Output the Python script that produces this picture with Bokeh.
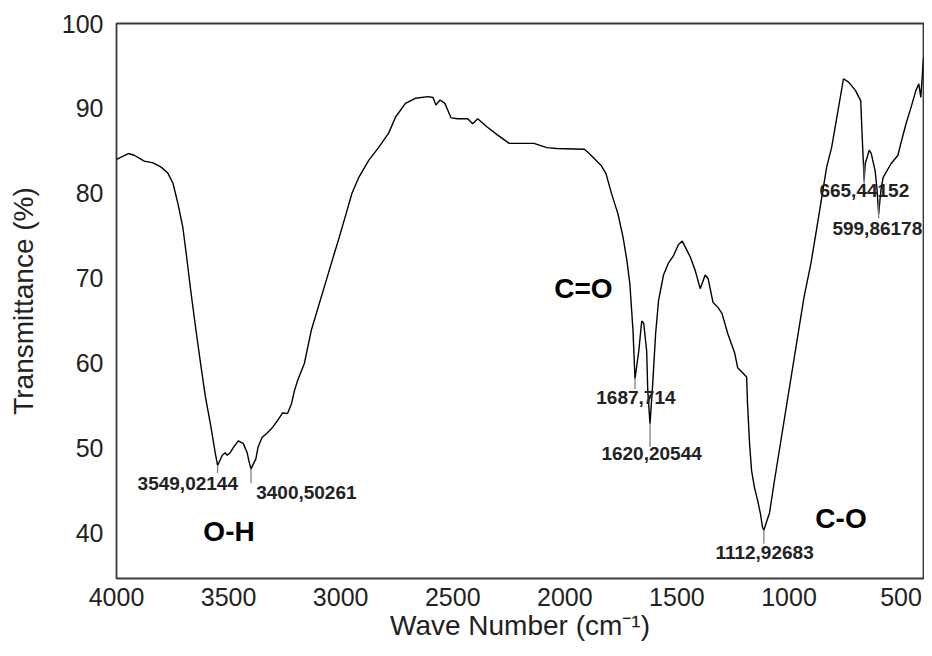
from bokeh.plotting import figure
from bokeh.models import Range1d, FixedTicker
from bokeh.core.properties import value
from bokeh.embed import file_html
from bokeh.resources import INLINE

# FTIR spectrum (wavenumber in cm^-1, transmittance in %)
wavenumber = [4000, 3947, 3921, 3876, 3837, 3801, 3771, 3748, 3726, 3704, 3687, 3669, 3647,
              3625, 3603, 3581, 3559, 3549, 3528, 3515, 3506, 3493, 3479, 3457, 3435, 3417,
              3410, 3400, 3378, 3369, 3351, 3329, 3303, 3281, 3259, 3237, 3219, 3206, 3192,
              3162, 3131, 3038, 3007, 2976, 2950, 2919, 2875, 2831, 2786, 2755, 2711, 2667,
              2610, 2588, 2575, 2557, 2535, 2522, 2508, 2478, 2433, 2411, 2389, 2345, 2301,
              2248, 2138, 2080, 2036, 1913, 1891, 1838, 1816, 1793, 1763, 1740, 1723, 1710,
              1696, 1687, 1670, 1657, 1648, 1635, 1630, 1620, 1608, 1595, 1582, 1560, 1538,
              1515, 1493, 1476, 1440, 1418, 1396, 1374, 1361, 1339, 1317, 1299, 1273, 1242,
              1229, 1207, 1189, 1185, 1176, 1167, 1154, 1140, 1128, 1118, 1112, 1087, 1065,
              933, 902, 880, 854, 832, 810, 787, 757, 734, 703, 680, 674, 668, 665, 660, 642,
              633, 616, 608, 600, 590, 580, 545, 514, 501, 478, 456, 434, 421, 412, 403, 400]
transmittance = [84.0, 84.7, 84.5, 83.8, 83.6, 83.1, 82.4, 81.2, 78.8, 76.0, 72.5, 68.6, 64.2,
                 60.0, 56.0, 52.9, 49.4, 48.0, 49.2, 49.5, 49.2, 49.5, 50.1, 50.9, 50.6, 49.5,
                 48.6, 47.6, 48.8, 50.1, 51.3, 51.8, 52.5, 53.3, 54.2, 54.1, 55.3, 56.8, 58.0,
                 60.0, 63.9, 72.1, 74.8, 77.6, 80.0, 81.9, 83.9, 85.4, 87.1, 89.0, 90.6, 91.2,
                 91.4, 91.3, 90.4, 91.0, 90.6, 89.8, 88.9, 88.8, 88.8, 88.2, 88.8, 87.8, 86.9,
                 85.9, 85.9, 85.4, 85.3, 85.2, 84.7, 83.3, 82.3, 80.1, 77.6, 74.8, 72.1, 69.4,
                 63.9, 58.2, 61.5, 65.0, 64.7, 61.5, 56.8, 52.9, 57.6, 63.5, 67.4, 70.4, 71.8,
                 72.7, 74.0, 74.4, 72.5, 70.9, 68.8, 70.4, 70.0, 67.2, 66.6, 65.9, 63.5, 61.2,
                 59.5, 58.9, 58.4, 55.3, 50.6, 47.4, 45.4, 43.9, 42.4, 40.7, 40.4, 42.4, 46.2,
                 67.8, 71.8, 75.3, 79.5, 83.1, 85.4, 88.9, 93.5, 93.1, 92.1, 90.9, 87.0, 83.5,
                 81.5, 83.5, 85.1, 84.7, 82.7, 80.7, 77.6, 80.4, 81.9, 83.5, 84.5, 85.9, 88.2,
                 90.1, 92.1, 92.9, 91.3, 94.8, 96.0]

# Peak annotations
peak_text = ["3549,02144", "3400,50261", "1687,714", "1620,20544", "1112,92683",
             "665,44152", "599,86178"]
peak_x = [3549, 3400, 1687, 1620, 1112, 665, 600]
peak_top = [48.0, 47.6, 58.2, 52.9, 40.4, 83.5, 79.2]
peak_bottom = [47.1, 45.9, 57.0, 50.2, 38.8, 81.0, 77.1]
peak_label_x = [3682, 3153, 1683, 1613, 1109, 664, 606]
peak_label_y = [45.9, 44.8, 56.0, 49.4, 37.8, 80.4, 75.9]

# Functional-group annotations
group_text = ["O-H", "C=O", "C-O"]
group_x = [3498, 1917, 768]
group_y = [40.2, 68.8, 41.8]

x_ticks = [4000, 3500, 3000, 2500, 2000, 1500, 1000, 500]
y_ticks = [40, 50, 60, 70, 80, 90, 100]

FONT = "Liberation Sans"

p = figure(width=924, height=648, output_backend="svg", toolbar_location=None,
           x_range=Range1d(4000, 400), y_range=Range1d(34.7, 100),
           min_border_left=116, min_border_right=1, min_border_top=23, min_border_bottom=70)

p.xgrid.visible = False
p.ygrid.visible = False
p.outline_line_color = "#3a3a3a"
p.outline_line_width = 1.8
p.background_fill_color = "white"
p.border_fill_color = "white"

for ax in (p.xaxis[0], p.yaxis[0]):
    ax.axis_line_color = None
    ax.major_tick_line_color = None
    ax.minor_tick_line_color = None
    ax.major_tick_out = 0
    ax.major_tick_in = 0
    ax.major_label_text_font = FONT
    ax.major_label_text_font_size = "25px"
    ax.major_label_text_color = "#222222"
    ax.axis_label_text_font = FONT
    ax.axis_label_text_font_size = "28px"
    ax.axis_label_text_font_style = "normal"
    ax.axis_label_text_color = "#222222"

p.xaxis.ticker = FixedTicker(ticks=x_ticks)
p.yaxis.ticker = FixedTicker(ticks=y_ticks)
p.xaxis.axis_label = "Wave Number (cm\u207b\u00b9)"
p.yaxis.axis_label = "Transmittance (%)"
p.xaxis.major_label_standoff = 9
p.xaxis.axis_label_standoff = 1
p.yaxis.major_label_standoff = 13
p.yaxis.axis_label_standoff = 20

p.line(wavenumber, transmittance, line_color="black", line_width=1.4)

p.segment(x0=peak_x, y0=peak_top, x1=peak_x, y1=peak_bottom,
          line_color="#777777", line_width=1.2)

p.text(x=peak_label_x, y=peak_label_y, text=peak_text,
       text_font=value(FONT), text_font_size="19px", text_font_style="bold",
       text_color="#222222", text_align="center", text_baseline="middle")

p.text(x=group_x, y=group_y, text=group_text,
       text_font=value(FONT), text_font_size="28px", text_font_style="bold",
       text_color="black", text_align="center", text_baseline="middle")

open("out.html", "w").write(file_html(p, INLINE))
